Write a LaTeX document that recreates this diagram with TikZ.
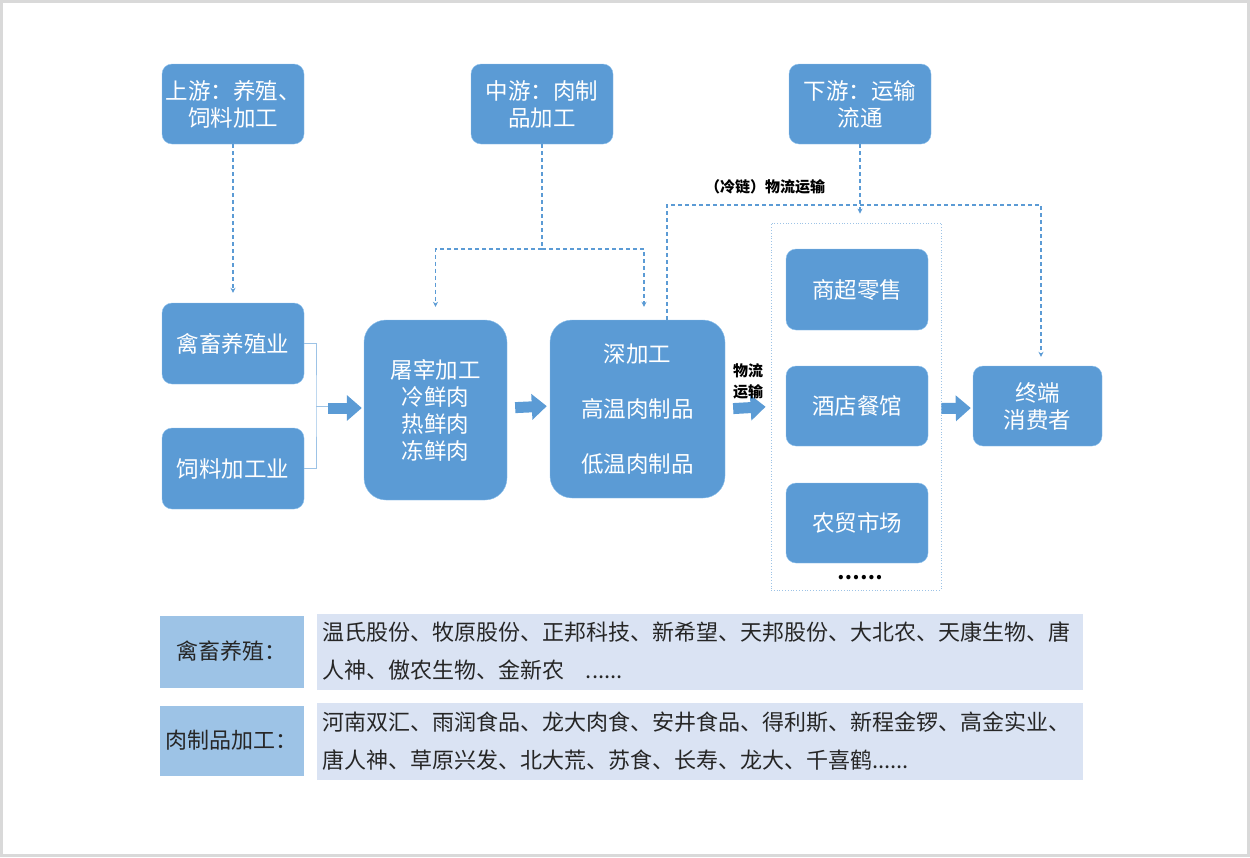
\documentclass[tikz,border=0pt]{standalone}
\usepackage{fontspec}
\setmainfont{Noto Sans CJK SC}
\usetikzlibrary{arrows.meta, positioning}
\definecolor{boxblue}{HTML}{5B9BD5}
\definecolor{edgeblue}{HTML}{8CC0EC}
\definecolor{tagblue}{HTML}{9DC3E6}
\definecolor{listblue}{HTML}{DAE3F3}
\definecolor{rimgray}{HTML}{D9D9D9}
\definecolor{inkgray}{HTML}{262626}
\tikzset{> = { Stealth[length = 5pt, width = 5pt] }}

\begin{document}
\begin{tikzpicture}[x = 1pt, y = -1pt,
		stage/.style = { draw = edgeblue, fill = boxblue, rounded corners = 10pt, minimum width = 142pt, minimum height = 80pt, inner sep = 0pt, text = white, align = center, font = \fontsize{22.5}{27}\selectfont },
		plant/.style = { stage, rounded corners = 22pt, minimum height = 180pt },
		link/.style = { ->, draw = boxblue, line width = 1.4pt, dash pattern = on 4pt off 3pt },
		flow/.style = { draw = boxblue, line width = 11pt, -{Triangle[length = 15pt, width = 25pt]} },
		brk/.style = { draw = tagblue, line width = 1pt },
		note/.style = { font = \fontsize{15}{21}\selectfont\bfseries, align = center },
		tag/.style = { draw = white, fill = tagblue, minimum width = 145pt, inner sep = 0pt, text = inkgray, font = \fontsize{22}{27}\selectfont },
		list/.style = { draw = white, fill = listblue, minimum width = 767pt, text width = 755pt, inner xsep = 6pt, align = left, text = inkgray, font = \fontsize{22}{38}\selectfont }]
		\useasboundingbox (0,0) rectangle (1250,857);
		\draw [draw = rimgray, line width = 3pt] (1.5,1.5) rectangle (1248.5,855.5);

		% chain stages
		\node [stage] (up)   at (233,104) {上游：养殖、\\饲料加工};
		\node [stage] (mid)  at (542,104) {中游：肉制\\品加工};
		\node [stage] (down) at (860,104) {下游：运输\\流通};

		\node [stage, minimum height = 81pt] (farm) at (233,343.5) {禽畜养殖业};
		\node [stage, minimum height = 81pt] (feed) at (233,468.5) {饲料加工业};

		\node [plant, minimum width = 143pt] (slaughter) at (435.5,410) {屠宰加工\\冷鲜肉\\热鲜肉\\冻鲜肉};
		\node [plant, minimum width = 175pt, minimum height = 178pt] (deep) at (637.5,409) {深加工\\[28pt]高温肉制品\\[28pt]低温肉制品};

		\node [draw = tagblue, dotted, line width = 0.8pt, minimum width = 170pt, minimum height = 367pt] (shop) at (856,406.5) {};
		\node [stage, minimum height = 81pt] (super)  at (857,289.5) {商超零售};
		\node [stage]                        (hotel)  at (857,406)   {酒店餐馆};
		\node [stage]                        (market) at (857,523)   {农贸市场};
		\node [font = \fontsize{20}{20}\selectfont\bfseries] (more) at (860,578) {……};

		\node [stage, minimum width = 129pt] (user) at (1037.5,406) {终端\\消费者};

		% brace and block arrows
		\coordinate (join) at (316,406);
		\draw [brk] (farm.east) -| (join) |- (feed.east);
		\draw [brk] (join) -- ++(12,0) coordinate (joinend);
		\draw [flow] (joinend |- 0,408) -- ([yshift = 2pt, xshift = -2pt]slaughter.west);
		\draw [flow, shorten <= 8pt, shorten >= 3pt] ([yshift = 2pt]slaughter.east) -- ([yshift = 3pt]deep.west);
		\draw [flow, shorten <= 8pt, shorten >= 5pt] (deep.east) -- (shop.west);
		\node [note] (ship) at (748,381) {物流\\运输};
		\draw [flow, shorten >= 2pt] ([yshift = -2pt]shop.east) -- ([yshift = -2pt]user.west);

		% dashed links
		\draw [link, shorten >= 10pt] (up.south) -- (farm.north);
		\draw [link, -] (mid.south) -- (542,249) coordinate (split);
		\draw [link, shorten >= 13pt] (split) -| (slaughter.north);
		\draw [link, shorten >= 13pt] (split) -| ([xshift = 6.5pt]deep.north);
		\draw [link, shorten >= 9pt] (down.south) -- (down.south |- shop.north);
		\draw [link, shorten >= 9pt] ([xshift = 29.5pt]deep.north) |- (1041,205) coordinate (bend) -- (bend |- user.north);
		\node [note] (cold) at (765,187) {（冷链）物流运输};

		% company table
		\node [tag, minimum height = 73pt] (tagfarm) at (231.5,651.5) {禽畜养殖：};
		\node [list, minimum height = 77pt] (listfarm) at (699.5,651.5) {温氏股份、牧原股份、正邦科技、新希望、天邦股份、大北农、天康生物、唐\\人神、傲农生物、金新农\ \ \ ......};
		\node [tag, minimum height = 71pt] (tagmeat) at (231.5,740.5) {肉制品加工：};
		\node [list, minimum height = 78pt] (listmeat) at (699.5,741) {河南双汇、雨润食品、龙大肉食、安井食品、得利斯、新程金锣、高金实业、\\唐人神、草原兴发、北大荒、苏食、长寿、龙大、千喜鹤......};
	\end{tikzpicture}
\end{document}
